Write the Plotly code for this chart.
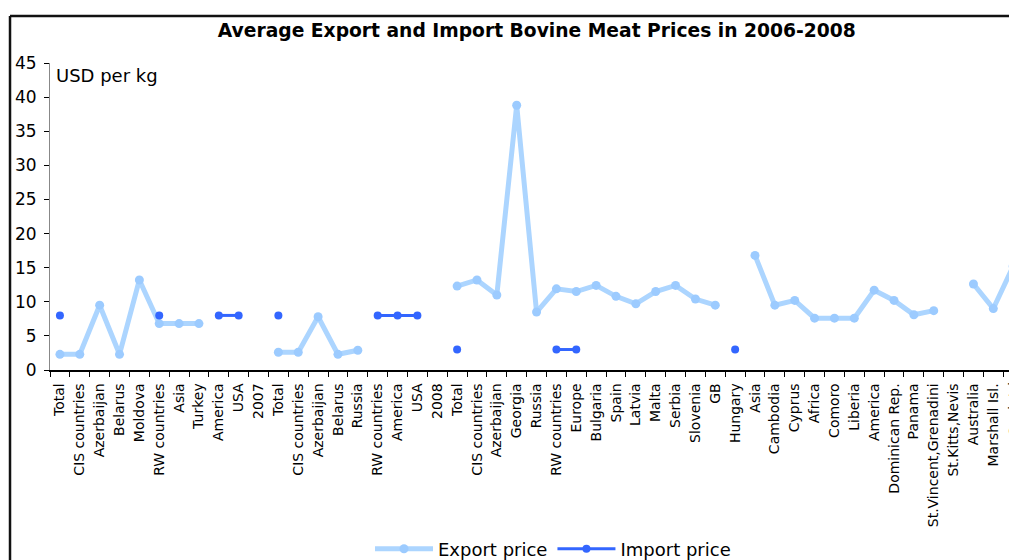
import plotly.graph_objects as go

categories = ["Total", "CIS countries", "Azerbaijan", "Belarus", "Moldova", "RW countries", "Asia", "Turkey",
              "America", "USA", "2007", "Total", "CIS countries", "Azerbaijan", "Belarus", "Russia",
              "RW countries", "America", "USA", "2008", "Total", "CIS countries", "Azerbaijan", "Georgia",
              "Russia", "RW countries", "Europe", "Bulgaria", "Spain", "Latvia", "Malta", "Serbia", "Slovenia",
              "GB", "Hungary", "Asia", "Cambodia", "Cyprus", "Africa", "Comoro", "Liberia", "America",
              "Dominican Rep.", "Panama", "St.Vincent,Grenadini", "St.Kitts,Nevis", "Australia",
              "Marshall Isl.", "Cook Isl."]

export_price = [2.3, 2.3, 9.5, 2.3, 13.2, 6.8, 6.8, 6.8, None, None, None,
                2.6, 2.6, 7.8, 2.3, 2.9, None, None, None, None,
                12.3, 13.2, 11.0, 38.8, 8.5, 11.9, 11.5, 12.4, 10.8, 9.7, 11.5, 12.4, 10.4, 9.5, None,
                16.8, 9.5, 10.2, 7.6, 7.6, 7.6, 11.7, 10.2, 8.1, 8.7, None, 12.6, 9.0, 15.2]

import_price = [8.0, None, None, None, None, 8.0, None, None, 8.0, 8.0, None,
                8.0, None, None, None, None, 8.0, 8.0, 8.0, None,
                3.0, None, None, None, None, 3.0, 3.0, None, None, None, None, None, None, None, 3.0,
                None, None, None, None, None, None, None, None, None, None, None, None, None, None]

xs = list(range(len(categories)))
X_RANGE = [-0.5, 47.79]
FONT = "DejaVu Sans, Verdana, sans-serif"

fig = go.Figure()
fig.add_trace(go.Scatter(
    x=xs, y=export_price, name="Export price", mode="lines+markers",
    line=dict(color="#acd5ff", width=5), marker=dict(color="#9ccbff", size=9),
    connectgaps=False,
))
fig.add_trace(go.Scatter(
    x=xs, y=import_price, name="Import price", mode="lines+markers",
    line=dict(color="#3366ff", width=3), marker=dict(color="#3366ff", size=8),
    connectgaps=False,
))

fig.update_layout(
    width=1009, height=560,
    margin=dict(l=50, r=0, t=63, b=190),
    paper_bgcolor="white", plot_bgcolor="white",
    font=dict(family=FONT, color="black"),
    title=dict(text="<b>Average Export and Import Bovine Meat Prices in 2006-2008</b>",
               x=0.532, xanchor="center", xref="container", y=0.945, yref="container", yanchor="middle",
               font=dict(size=18.7, family=FONT, color="black")),
    showlegend=True,
    legend=dict(orientation="h", x=0.5245, xanchor="center",
                yref="container", y=0.0196, yanchor="middle",
                font=dict(size=18, family=FONT), itemwidth=58, bgcolor="rgba(0,0,0,0)"),
    xaxis=dict(
        range=X_RANGE, tickmode="array", tickvals=xs, ticktext=categories,
        tickangle=-90, tickfont=dict(size=14, family=FONT), ticks="", ticklabelstandoff=6,
        showline=True, linecolor="black", linewidth=1.5, showgrid=False, zeroline=False,
        automargin=False,
        minor=dict(tickmode="linear", tick0=-0.5, dtick=1, ticks="outside", ticklen=5,
                   tickcolor="black", tickwidth=1, showgrid=False),
    ),
    yaxis=dict(
        range=[0, 45], tickmode="linear", tick0=0, dtick=5, ticks="outside", ticklen=5,
        tickcolor="black", tickfont=dict(size=17, family=FONT), ticklabelstandoff=4,
        showline=True, linecolor="#888888", linewidth=1, showgrid=False, zeroline=False,
        automargin=False,
    ),
)

# label of the last category, which lies just past the visible right edge
last_pos = (xs[-1] - X_RANGE[0]) / (X_RANGE[1] - X_RANGE[0])
fig.add_annotation(x=last_pos, y=0, xref="paper", yref="paper", text=categories[-1], textangle=-90,
                   showarrow=False, xanchor="center", yanchor="top", yshift=-6,
                   font=dict(size=14, family=FONT))

fig.add_annotation(x=0.004, y=0.958, xref="paper", yref="paper", text="USD per kg",
                   showarrow=False, xanchor="left", yanchor="middle", font=dict(size=18, family=FONT))

# chart frame (left and top edges)
fig.add_shape(type="line", xref="paper", yref="paper", x0=-0.0417, x1=-0.0417, y0=1.153, y1=-0.7,
              line=dict(color="#111111", width=2.5))
fig.add_shape(type="line", xref="paper", yref="paper", x0=-0.0417, x1=1.1, y0=1.153, y1=1.153,
              line=dict(color="#111111", width=2.5))

fig.write_html("out.html", config={"displayModeBar": False},
               post_script="document.body.style.margin='0px';document.body.style.overflow='hidden';")
